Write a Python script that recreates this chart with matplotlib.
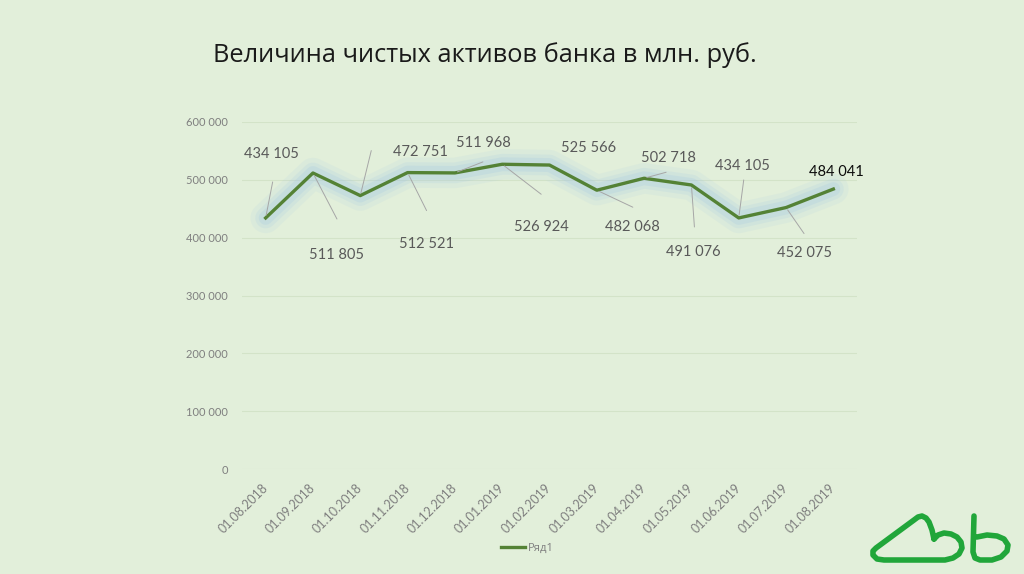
import matplotlib
matplotlib.use("Agg")
import matplotlib.pyplot as plt
from matplotlib.ticker import FuncFormatter

# data ------------------------------------------------
dates = ["01.08.2018", "01.09.2018", "01.10.2018", "01.11.2018", "01.12.2018",
         "01.01.2019", "01.02.2019", "01.03.2019", "01.04.2019", "01.05.2019",
         "01.06.2019", "01.07.2019", "01.08.2019"]
values = [434105, 511805, 472751, 512521, 511968, 526924, 525566,
          482068, 502718, 491076, 434105, 452075, 484041]
yticks = [0, 100000, 200000, 300000, 400000, 500000, 600000]
title = "Величина чистых активов банка в млн. руб."
series_name = "Ряд1"

# label placement (pixels, y up) and leader line ends, roughly as in the slide
label_off = [(6, 64), (24, -82), (60, 44), (19, -71), (28, 30), (39, -63), (39, 17),
             (36, -37), (24, 20), (2, -67), (4, 52), (18, -45), (3, 17)]
leader_end = [(7, 36), (24, -46), (11, 45), (19, -38), (28, 11), (39, -30), None,
              (36, -17), (22, 6), (3, -42), (5, 38), (18, -26), None]

BG = "#e2efda"
GREEN = "#548235"
GREY = "#7f7f7f"

fig = plt.figure(figsize=(10.24, 5.74), dpi=100)
fig.patch.set_facecolor(BG)
ax = fig.add_axes([242/1024, 1-469/574, 615/1024, 347/574])
ax.set_facecolor(BG)

x = list(range(len(values)))
# soft glow under the line
for lw, a in [(22, 0.10), (15, 0.15), (10, 0.20)]:
    ax.plot(x, values, color="#9dc3e6", lw=lw, alpha=a, solid_joinstyle="round",
            solid_capstyle="round", zorder=2)
ax.plot(x, values, color=GREEN, lw=2.4, zorder=3, label=series_name)

ax.set_xlim(-0.5, len(values)-0.5)
ax.set_ylim(0, 600000)
ax.set_yticks(yticks)
ax.yaxis.set_major_formatter(FuncFormatter(lambda v, p: "{:,}".format(int(v)).replace(",", " ")))
ax.set_xticks(x)
ax.set_xticklabels(dates, rotation=45, ha="right", va="center", rotation_mode="anchor")
ax.tick_params(axis="both", length=0, colors=GREY)
ax.tick_params(axis="y", pad=10, labelsize=8)
ax.tick_params(axis="x", pad=12, labelsize=9)
for lab in ax.get_xticklabels() + ax.get_yticklabels():
    lab.set_family(["Lato", "DejaVu Sans"])
ax.grid(axis="y", color="#d3e3c8", lw=0.8)
ax.set_axisbelow(True)
for s in ax.spines.values():
    s.set_visible(False)

# data labels with leader lines
for i, v in enumerate(values):
    col = "#0d0d0d" if i == len(values)-1 else "#595959"
    ax.annotate("{:,}".format(v).replace(",", " "), xy=(i, v), xytext=label_off[i],
                textcoords="offset pixels", ha="center", va="center", fontsize=10.5,
                color=col, family=["Lato", "DejaVu Sans"], zorder=5)
    if leader_end[i] is not None:
        ax.annotate("", xy=(i, v), xytext=leader_end[i], textcoords="offset pixels",
                    arrowprops=dict(arrowstyle="-", color="#a6a6a6", lw=0.7,
                                    shrinkA=0, shrinkB=2), zorder=4)

fig.text(485/1024, 1-55/574, title, ha="center", va="center", fontsize=18.3,
         color="#1a1a1a", family=["Open Sans", "DejaVu Sans"])

leg = fig.legend(loc="center", bbox_to_anchor=(527/1024, 1-548/574), frameon=False,
                 handlelength=2.2, handletextpad=0.2, prop={"family": ["Open Sans", "DejaVu Sans"], "size": 8})
for t in leg.get_texts():
    t.set_color(GREY)

# logo, bottom right (pixel coordinates)
lg = fig.add_axes([0, 0, 1, 1], facecolor="none")
lg.set_xlim(0, 1024)
lg.set_ylim(574, 0)
lg.axis("off")
ox, oy = 862, 508
shape1 = [(72, 31), (70, 22), (67, 14), (64, 10), (60, 8), (56, 9), (52, 12),
          (14, 40), (11, 43), (11, 47), (15, 51), (22, 52), (83, 52), (91, 50),
          (97, 46), (100, 40), (99, 34), (95, 29), (89, 26), (82, 25), (76, 27), (72, 31)]
shape2 = [(112, 8), (111, 44), (113, 50), (118, 52), (130, 52), (139, 49), (145, 43),
          (146, 37), (142, 31), (135, 28), (125, 27), (115, 29)]
for sh in (shape1, shape2):
    lg.plot([ox+p[0] for p in sh], [oy+p[1] for p in sh], color="#21a63a", lw=4,
            solid_capstyle="round", solid_joinstyle="round")

fig.savefig("out.png", dpi=100, facecolor=BG)
